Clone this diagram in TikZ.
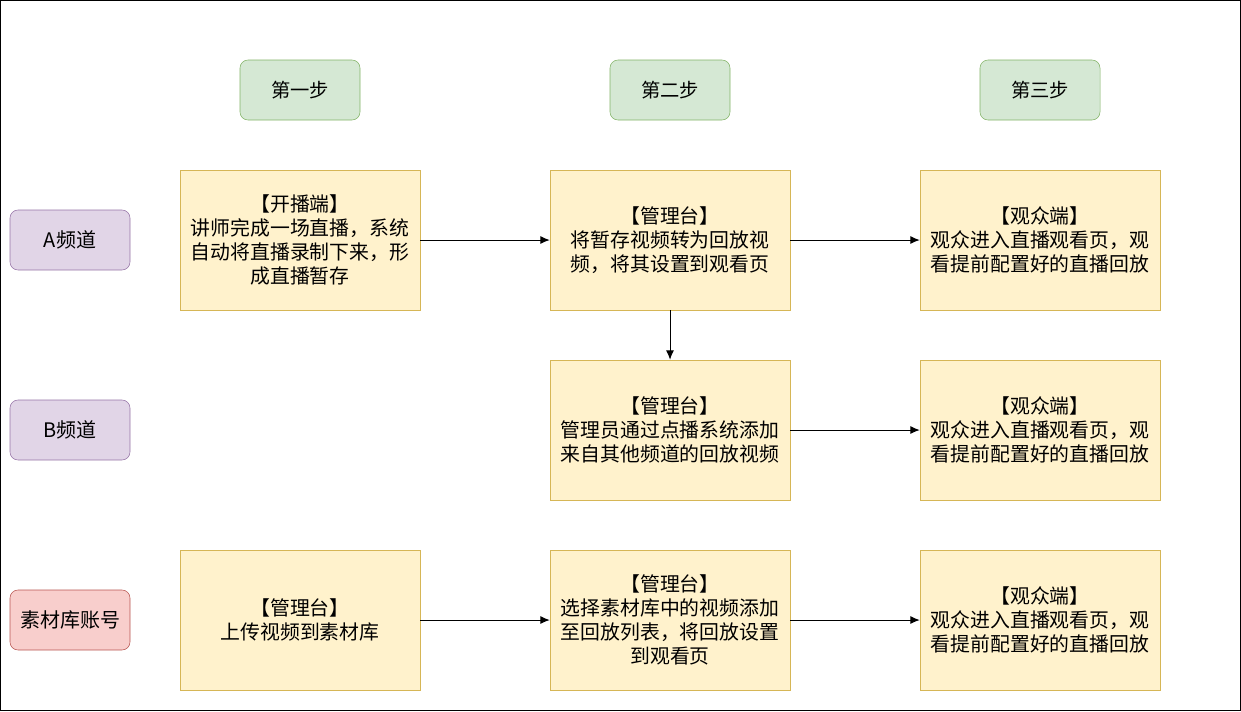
\documentclass[tikz,border=0pt]{standalone}
\usepackage{fontspec}
\newfontfamily\cjk{Noto Sans CJK SC}
\usetikzlibrary{arrows.meta}
\tikzset{>={Latex[width=6pt,length=7pt]}}
\definecolor{stepfill}{HTML}{D5E8D4}
\definecolor{stepdraw}{HTML}{82B366}
\definecolor{chanfill}{HTML}{E1D5E7}
\definecolor{chandraw}{HTML}{9673A6}
\definecolor{libfill}{HTML}{F8CECC}
\definecolor{libdraw}{HTML}{B85450}
\definecolor{taskfill}{HTML}{FFF2CC}
\definecolor{taskdraw}{HTML}{D6B656}
\tikzset{
  stepbox/.style={draw=stepdraw, fill=stepfill, rounded corners=6pt,
    minimum width=90pt, minimum height=45pt, font=\cjk\fontsize{14.5}{17}\selectfont},
  chanbox/.style={draw=chandraw, fill=chanfill, rounded corners=6pt,
    minimum width=90pt, minimum height=45pt, font=\cjk\fontsize{15}{17}\selectfont},
  libbox/.style={chanbox, draw=libdraw, fill=libfill},
  taskbox/.style={draw=taskdraw, fill=taskfill, align=center,
    minimum width=180pt, minimum height=105pt, inner sep=2pt,
    font=\cjk\fontsize{14.9}{18}\selectfont},
  flow/.style={->, line width=0.75pt}
}
\begin{document}
\begin{tikzpicture}[x=0.75pt,y=-0.75pt]

\newcommand\CA{300}
\newcommand\CB{670}
\newcommand\CC{1040}

\useasboundingbox (0,0) rectangle (1241,711);
\draw[line width=1pt] (0.5,0.5) rectangle (1240.5,710.5); %% frame

%% steps
\node[stepbox] (step1) at (\CA,90) {第一步};
\node[stepbox] (step2) at (\CB,90) {第二步};
\node[stepbox] (step3) at (\CC,90) {第三步};

%% channels
\node[chanbox] (chA) at (70,240) {A频道};
\node[chanbox] (chB) at (70,430) {B频道};
\node[libbox] (chLib) at (70,620) {素材库账号};

%% row A
\node[taskbox] (a1) at (\CA,240) {【开播端】\\讲师完成一场直播，系统\\自动将直播录制下来，形\\成直播暂存};
\node[taskbox] (a2) at (\CB,240) {【管理台】\\将暂存视频转为回放视\\频，将其设置到观看页};
\node[taskbox] (a3) at (\CC,240) {【观众端】\\观众进入直播观看页，观\\看提前配置好的直播回放};

%% row B
\node[taskbox] (b2) at (\CB,430) {【管理台】\\管理员通过点播系统添加\\来自其他频道的回放视频};
\node[taskbox] (b3) at (\CC,430) {【观众端】\\观众进入直播观看页，观\\看提前配置好的直播回放};

%% row library
\node[taskbox] (c1) at (\CA,620) {【管理台】\\上传视频到素材库};
\node[taskbox] (c2) at (\CB,620) {【管理台】\\选择素材库中的视频添加\\至回放列表，将回放设置\\到观看页};
\node[taskbox] (c3) at (\CC,620) {【观众端】\\观众进入直播观看页，观\\看提前配置好的直播回放};

\draw[flow] (a1) -- (a2);
\draw[flow] (a2) -- (a3);
\draw[flow] (a2) -- (b2);
\draw[flow] (b2) -- (b3);
\draw[flow] (c1) -- (c2);
\draw[flow] (c2) -- (c3);

\end{tikzpicture}
\end{document}
